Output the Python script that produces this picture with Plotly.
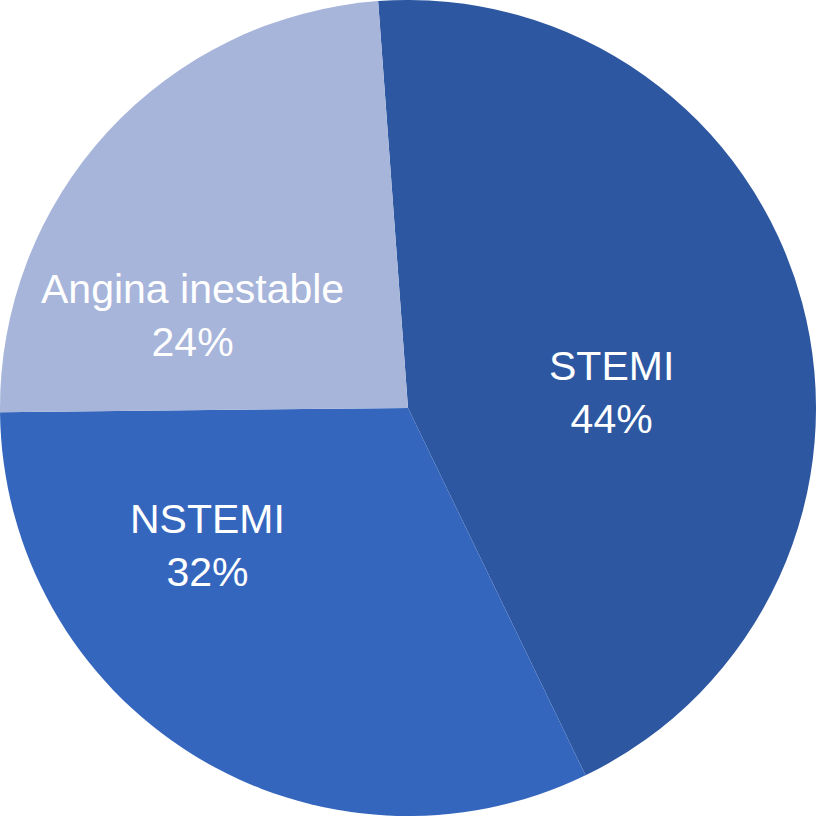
import plotly.graph_objects as go

# Distribución por tipo de síndrome coronario agudo
labels = ["STEMI", "NSTEMI", "Angina inestable"]
values = [44, 32, 24]
colors = ["#2D58A1", "#3566BE", "#A7B5DA"]

# posición de cada etiqueta (fracción del papel), como en el original
label_pos = [(0.749, 0.519), (0.254, 0.331), (0.236, 0.613)]

fig = go.Figure(go.Pie(
    labels=labels,
    values=values,
    sort=False,
    direction="clockwise",
    rotation=-4.2,
    marker=dict(colors=colors, line=dict(width=0)),
    textinfo="none",
    hoverinfo="label+percent",
))

total = sum(values)
for lab, val, (px, py) in zip(labels, values, label_pos):
    fig.add_annotation(
        x=px, y=py, xref="paper", yref="paper",
        text=f"{lab}<br>{round(100 * val / total)}%",
        showarrow=False,
        xanchor="center", yanchor="middle",
        font=dict(family="Liberation Sans, Arial, sans-serif", size=41, color="white"),
    )

fig.update_layout(
    width=816,
    height=816,
    margin=dict(l=0, r=0, t=0, b=0),
    showlegend=False,
    paper_bgcolor="white",
)

fig.write_html(
    "out.html",
    config={"displayModeBar": False},
    post_script="document.body.style.margin='0';",
)
